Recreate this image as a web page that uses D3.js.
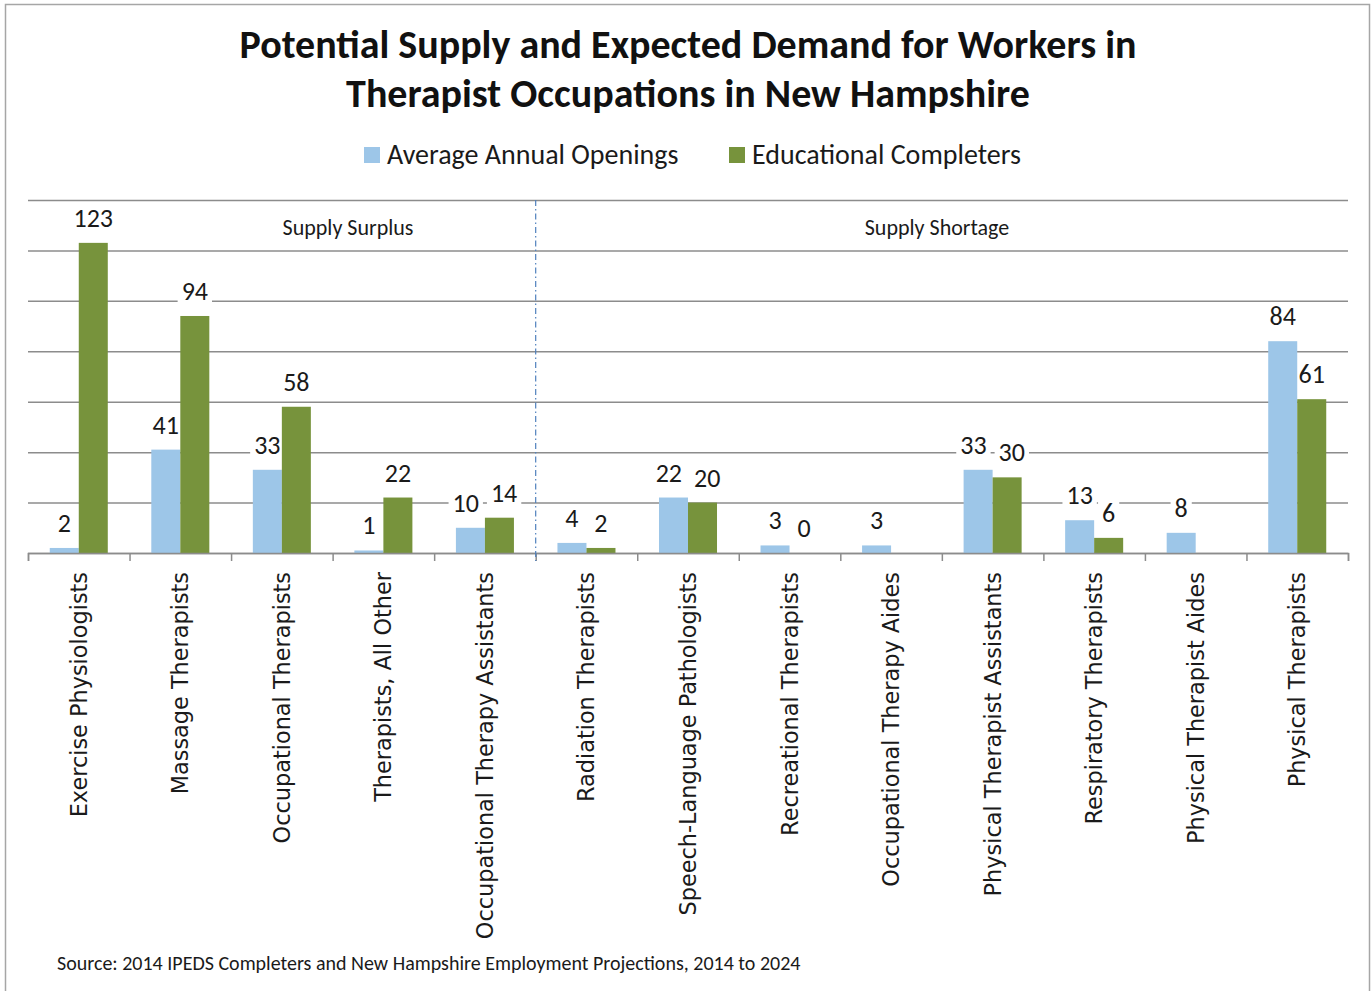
<!DOCTYPE html>
<html>
<head>
<meta charset="utf-8">
<script src="https://cdn.jsdelivr.net/npm/d3@7"></script>
<style>
  body { margin: 0; background: #fff; }
  svg { display: block; }
  .calibri { font-family: Carlito, Lato, "Open Sans", sans-serif; }
</style>
</head>
<body>
<div id="chart"></div>
<script>
const categories = [
  'Exercise Physiologists', 'Massage Therapists', 'Occupational Therapists',
  'Therapists, All Other', 'Occupational Therapy Assistants', 'Radiation Therapists',
  'Speech-Language Pathologists', 'Recreational Therapists', 'Occupational Therapy Aides',
  'Physical Therapist Assistants', 'Respiratory Therapists', 'Physical Therapist Aides',
  'Physical Therapists'
];
const openings = [2, 41, 33, 1, 10, 4, 22, 3, 3, 33, 13, 8, 84];
const completers = [123, 94, 58, 22, 14, 2, 20, 0, null, 30, 6, null, 61];
const seriesNames = ['Average Annual Openings', 'Educational Completers'];
const colors = ['#9dc6e8', '#77933c'];
const gridTicks = [0, 20, 40, 60, 80, 100, 120, 140];
const sections = [
  { name: 'Supply Surplus', from: 0, to: 5 },
  { name: 'Supply Shortage', from: 5, to: 13 }
];

const width = 1372, height = 991;
const margin = { top: 200, right: 24, bottom: 438, left: 28 };
const innerWidth = width - margin.left - margin.right;
const innerHeight = height - margin.top - margin.bottom;

const svg = d3.select('#chart').append('svg')
  .attr('width', width)
  .attr('height', height);

// outer frame
svg.append('rect')
  .attr('x', 5.5).attr('y', 4.5)
  .attr('width', 1364).attr('height', 992)
  .attr('fill', 'none').attr('stroke', '#a6a6a6').attr('stroke-width', 1.5);

// title
svg.append('text')
  .attr('class', 'calibri')
  .attr('x', 688).attr('text-anchor', 'middle')
  .attr('font-size', 40).attr('font-weight', 'bold').attr('fill', '#111')
  .selectAll('tspan')
  .data(['Potential Supply and Expected Demand for Workers in', 'Therapist Occupations in New Hampshire'])
  .enter().append('tspan')
    .attr('x', 688)
    .attr('y', (d, i) => 58 + i * 49)
    .text(d => d);

// legend
const legendX = [364, 729];
const legend = svg.append('g').attr('class', 'calibri');
seriesNames.forEach((name, i) => {
  legend.append('rect')
    .attr('x', legendX[i]).attr('y', 147)
    .attr('width', 16).attr('height', 16)
    .attr('fill', colors[i]);
  legend.append('text')
    .attr('x', legendX[i] + 23).attr('y', 164)
    .attr('font-size', 28).attr('fill', '#1a1a1a')
    .text(name);
});

const g = svg.append('g')
  .attr('transform', `translate(${margin.left},${margin.top})`);

const yScale = d3.scaleLinear()
  .domain([0, 140])
  .range([innerHeight, 0]);

const x0 = d3.scaleBand()
  .domain(categories)
  .range([0, innerWidth])
  .padding(0);

const x1 = d3.scaleBand()
  .domain(seriesNames)
  .range([0, x0.bandwidth()])
  .paddingInner(0)
  .paddingOuter(0.75);

// gridlines
const yAxis = d3.axisLeft(yScale)
  .tickValues(gridTicks)
  .tickSize(-innerWidth)
  .tickFormat('');
const yAxisG = g.append('g').call(yAxis);
yAxisG.select('.domain').remove();
yAxisG.selectAll('.tick line').attr('stroke', '#8c8c8c').attr('stroke-width', 1.5);

// layers: label backgrounds under the bars, label text on top
const bgLayer = g.append('g');
const barLayer = g.append('g');
const textLayer = g.append('g').attr('class', 'calibri');

// category boundary ticks
const boundary = d3.scaleLinear().domain([0, categories.length]).range([0, innerWidth]);
const xAxisG = g.append('g')
  .attr('transform', `translate(0,${innerHeight})`)
  .call(d3.axisBottom(boundary).ticks(categories.length).tickSize(8).tickFormat(''));
xAxisG.select('.domain').attr('stroke', '#8c8c8c').attr('stroke-width', 1.5);
xAxisG.selectAll('.tick line').attr('stroke', '#8c8c8c').attr('stroke-width', 1.5);

// category labels
g.append('g').selectAll('text')
  .data(categories)
  .enter().append('text')
    .attr('transform', d => `translate(${x0(d) + x0.bandwidth() / 2 + 8},${innerHeight + 19}) rotate(-90)`)
    .attr('text-anchor', 'end')
    .attr('font-family', '"DejaVu Sans", Verdana, sans-serif')
    .attr('font-size', 22.4)
    .attr('fill', '#1a1a1a')
    .text(d => d);

// divider between sections
g.append('line')
  .attr('x1', x0(categories[sections[1].from])).attr('x2', x0(categories[sections[1].from]))
  .attr('y1', 0).attr('y2', innerHeight + 8)
  .attr('stroke', '#4f81bd').attr('stroke-width', 1.2)
  .attr('stroke-dasharray', '6,3,1.5,3');

// section labels (the surplus one sits right of its section centre, as in the original)
const sectionLabelX = [320, 909];
g.append('g').attr('class', 'calibri').selectAll('text')
  .data(sections)
  .enter().append('text')
    .attr('x', (d, i) => sectionLabelX[i])
    .attr('y', 35)
    .attr('text-anchor', 'middle')
    .attr('font-size', 22)
    .attr('fill', '#1a1a1a')
    .text(d => d.name);

// bars
const rows = categories.map((c, i) => ({
  category: c,
  values: [
    { series: seriesNames[0], value: openings[i], color: colors[0] },
    { series: seriesNames[1], value: completers[i], color: colors[1] }
  ].filter(v => v.value !== null)
}));

rows.forEach(row => {
  const gx = x0(row.category);
  barLayer.selectAll(null)
    .data(row.values)
    .enter().append('rect')
      .attr('x', d => gx + x1(d.series))
      .attr('y', d => yScale(d.value))
      .attr('width', x1.bandwidth())
      .attr('height', d => innerHeight - yScale(d.value))
      .attr('fill', d => d.color);

  const texts = textLayer.selectAll(null)
    .data(row.values)
    .enter().append('text')
      .attr('x', d => gx + x1(d.series) + x1.bandwidth() / 2)
      .attr('y', d => yScale(d.value) - 16)
      .attr('text-anchor', 'middle')
      .attr('font-size', 26)
      .attr('fill', '#1a1a1a')
      .text(d => d.value);

  // push two labels apart when they would collide
  const nodes = texts.nodes();
  if (nodes.length === 2) {
    const [a, b] = nodes.map(n => n.getBBox());
    const dy = Math.abs(a.y - b.y);
    const need = (a.width + b.width) / 2 + 12;
    const ca = a.x + a.width / 2, cb = b.x + b.width / 2;
    if (dy < 16 && cb - ca < need) {
      const shift = (need - (cb - ca)) / 2;
      d3.select(nodes[0]).attr('x', ca - shift);
      d3.select(nodes[1]).attr('x', cb + shift);
    }
  }

  nodes.forEach(n => {
    const bb = n.getBBox();
    bgLayer.append('rect')
      .attr('x', bb.x - 4).attr('y', bb.y + 3)
      .attr('width', bb.width + 8).attr('height', bb.height - 6)
      .attr('fill', '#fff');
  });
});

// source
svg.append('text')
  .attr('class', 'calibri')
  .attr('x', 57).attr('y', 970)
  .attr('font-size', 20)
  .attr('fill', '#1a1a1a')
  .text('Source: 2014 IPEDS Completers and New Hampshire Employment Projections, 2014 to 2024');
</script>
</body>
</html>
